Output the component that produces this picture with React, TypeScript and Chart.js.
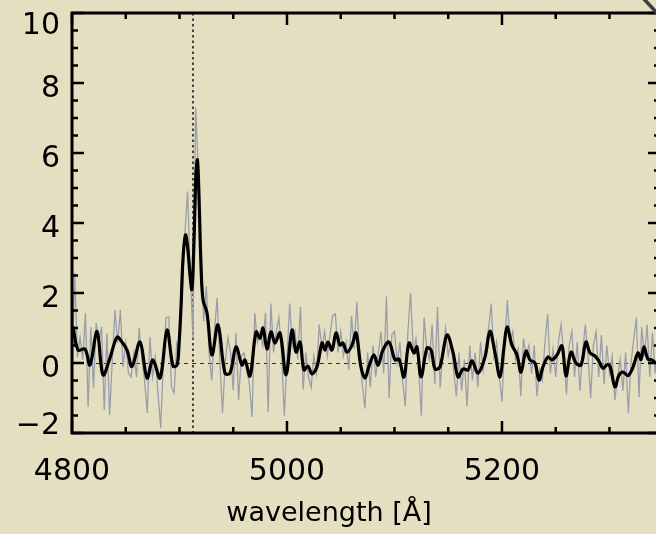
import React, { useEffect, useRef } from "react";
import { Chart, registerables } from "chart.js";

Chart.register(...registerables);

// ---- data ----
const X_MIN = 4800;
const X_MAX = 5347;
const Y_MIN = -2;
const Y_MAX = 10;
const xTickValues = [4800, 5000, 5200];
const yTickValues = [-2, 0, 2, 4, 6, 8, 10];
const markerWave = 4913; // dotted vertical line
const xTitle = "wavelength [Å]";

// raw (noisy) spectrum: sampled every 2.5 Å starting at 4800 Å
const rawStart = 4800;
const rawStep = 2.5;
const rawFlux = [
  -0.3, 2.57, 0.17, 0.74, 0.09, 1.43, -1.26, 1.03, -0.71, 1.14,
  0.57, 1.03, -1.34, 0.86, -1.49, 0.09, 1.51, 0.57, 1.51, -0.11,
  0.57, -0.29, -0.4, 0.29, -0.4, 1.0, 0.09, -0.49, -1.43, 0.74,
  -0.4, 0.17, -0.86, -1.86, 0.0, 1.29, 1.31, -0.69, -0.86, 0.57,
  0.4, 2.0, 3.7, 4.9, 2.6, 0.7, 7.3, 5.5, 3.0, 1.2,
  2.2, 0.3, -0.5, 0.9, 1.86, 0.1, -1.43, 0.0, 0.74, 0.3,
  -0.77, 0.86, -1.06, 0.2, 0.29, -0.2, -0.6, -1.54, 1.43, 0.6,
  0.86, 0.5, 1.43, -1.4, 1.7, 0.3, 0.9, 1.3, 0.2, -1.5,
  0.1, 1.7, 0.5, 0.9, 0.1, 1.6, -0.76, 0.3, -0.4, -0.7,
  0.2, -0.3, 1.1, 0.4, 0.9, 0.2, 0.8, 1.35, 1.4, 0.3,
  0.9, 0.2, 0.6, -0.2, 1.35, 0.4, 1.75, 0.2, -0.6, -1.3,
  0.3, -0.7, 0.5, -0.4, 0.3, 0.9, -0.3, 1.9, -1.0, 0.8,
  0.9, 0.0, 0.6, -0.5, -1.24, 0.9, 2.0, 0.3, 0.7, -0.2,
  -1.5, 1.3, 0.4, 0.1, 1.1, -0.6, 1.6, -0.7, 0.3, 1.0,
  0.2, 0.6, -0.2, -0.95, 0.3, -0.8, 0.1, -1.24, 0.5, -0.5,
  0.3, -0.7, 0.6, -0.2, 0.5, 1.0, 1.7, 0.2, 0.6, -0.4,
  -1.1, 0.6, 1.8, 0.6, 0.9, 0.1, 0.4, -0.95, 0.7, 0.2,
  0.5, -0.3, 0.5, -0.95, -0.2, -0.5, 0.6, 1.4, -0.3, 0.4,
  -0.4, 0.6, 1.1, 0.2, -0.9, 0.5, 0.9, -0.4, 0.6, -0.8,
  0.3, 1.1, 0.2, -1.0, 0.5, 0.9, -0.4, 0.8, -0.6, 0.5,
  -0.3, 0.2, -1.06, -0.4, 0.1, -0.8, 0.3, -1.43, 0.0, 0.66,
  1.3, -0.97, 1.03, 0.2, 1.1, -0.4, 0.86, -0.3, 0.4, 0.0,
];

// smoothed spectrum
const smoothWave = [
  4800.9, 4805.6, 4812.1, 4816.7, 4823.3, 4828.8, 4835.3, 4841.9, 4846.5, 4851.2,
  4855.8, 4863.3, 4869.8, 4875.3, 4881.9, 4888.4, 4894.0, 4897.7, 4899.5, 4901.4,
  4903.3, 4905.6, 4907.9, 4909.8, 4911.6, 4913.5, 4915.3, 4916.7, 4918.1, 4920.0,
  4921.9, 4925.6, 4930.2, 4935.8, 4942.3, 4947.0, 4952.6, 4958.1, 4960.9, 4965.6,
  4971.2, 4974.9, 4977.7, 4981.4, 4985.1, 4988.8, 4993.5, 4999.1, 5004.7, 5008.4,
  5012.1, 5015.8, 5019.5, 5023.3, 5027.9, 5032.6, 5035.3, 5038.1, 5041.9, 5045.6,
  5049.3, 5052.1, 5055.8, 5060.5, 5064.2, 5068.8, 5072.6, 5076.3, 5080.9, 5084.7,
  5089.3, 5094.9, 5100.5, 5104.2, 5108.8, 5113.5, 5118.1, 5120.9, 5124.7, 5130.2,
  5134.0, 5137.7, 5142.3, 5148.8, 5154.4, 5159.1, 5163.7, 5168.4, 5172.1, 5177.7,
  5184.2, 5188.8, 5193.5, 5198.1, 5201.9, 5204.7, 5209.3, 5214.0, 5217.7, 5222.3,
  5226.0, 5230.7, 5234.4, 5238.1, 5242.8, 5246.5, 5251.2, 5255.8, 5259.5, 5264.2,
  5268.8, 5273.5, 5278.1, 5281.9, 5286.5, 5290.2, 5293.9, 5297.7, 5300.5, 5305.1,
  5308.8, 5312.6, 5317.2, 5321.9, 5326.5, 5329.3, 5332.1, 5335.8, 5339.5, 5343.3,
  5347.0,
];
const smoothFlux = [
  1.05, 0.37, 0.4, -0.06, 0.9, -0.34, 0.14, 0.74, 0.6, 0.37,
  -0.1, 0.6, -0.43, 0.09, -0.43, 0.94, -0.09, -0.06, 0.5, 1.6,
  3.0, 3.66, 3.2, 2.5, 2.1, 3.5, 5.4, 5.8, 4.8, 2.8,
  1.8, 1.43, 0.23, 1.09, -0.29, -0.29, 0.46, -0.06, 0.09, -0.37,
  0.89, 0.71, 1.0, 0.4, 0.89, 0.57, 0.86, -0.34, 0.94, 0.31,
  0.6, -0.2, -0.09, -0.31, -0.11, 0.57, 0.37, 0.6, 0.37, 0.86,
  0.51, 0.57, 0.31, 0.51, 0.86, -0.11, -0.43, -0.09, 0.23, -0.06,
  0.37, 0.6, 0.09, 0.11, -0.4, 0.57, 0.29, 0.46, -0.4, 0.43,
  0.37, -0.17, -0.11, 0.8, 0.31, -0.4, -0.17, -0.2, 0.06, -0.29,
  0.17, 0.91, 0.29, -0.4, 0.46, 1.03, 0.51, 0.23, -0.26, 0.34,
  0.09, 0.0, -0.49, -0.11, 0.17, 0.09, 0.23, 0.49, -0.37, 0.31,
  0.0, -0.06, 0.6, 0.29, 0.2, 0.05, -0.15, -0.05, -0.09, -0.68,
  -0.35, -0.26, -0.36, -0.12, 0.29, 0.1, 0.46, 0.11, 0.09, 0.0,
  0.05,
];

// ---- styles ----
const BG = "#E5DFC1";
const FONT = "'DejaVu Sans', sans-serif";
const TICK_FONT_SIZE = 30;

const yLabelText = (v: number) => (v < 0 ? "\u2212" + Math.abs(v) : String(v));

const framePlugin = {
  id: "frame",
  beforeDatasetsDraw(chart: any) {
    const { ctx, chartArea } = chart;
    const { left, right, top, bottom } = chartArea;
    const x = chart.scales.x;
    const y = chart.scales.y;
    ctx.save();
    // zero line
    ctx.strokeStyle = "#2a2a2a";
    ctx.lineWidth = 1;
    ctx.setLineDash([4, 4]);
    const y0 = Math.round(y.getPixelForValue(0)) + 0.5;
    ctx.beginPath();
    ctx.moveTo(left, y0);
    ctx.lineTo(right, y0);
    ctx.stroke();
    // dotted marker
    ctx.strokeStyle = "#444";
    ctx.lineWidth = 2;
    ctx.setLineDash([2.5, 3]);
    const xm = Math.round(x.getPixelForValue(markerWave));
    ctx.beginPath();
    ctx.moveTo(xm, top);
    ctx.lineTo(xm, bottom);
    ctx.stroke();
    ctx.restore();
  },
  afterDraw(chart: any) {
    const { ctx, chartArea } = chart;
    const { left, right, top, bottom } = chartArea;
    const x = chart.scales.x;
    const y = chart.scales.y;
    ctx.save();
    ctx.strokeStyle = "#000";
    ctx.lineWidth = 3;
    ctx.setLineDash([]);
    ctx.beginPath();
    ctx.rect(left, top, right - left, bottom - top);
    ctx.stroke();
    // x ticks (bottom & top), inward
    ctx.lineWidth = 2.5;
    for (let v = X_MIN; v <= X_MAX; v += 50) {
      const px = x.getPixelForValue(v);
      const len = v % 200 === 0 ? 12 : 6;
      ctx.beginPath();
      ctx.moveTo(px, bottom);
      ctx.lineTo(px, bottom - len);
      ctx.moveTo(px, top);
      ctx.lineTo(px, top + len);
      ctx.stroke();
    }
    for (let v = Y_MIN; v <= Y_MAX; v += 0.5) {
      const py = y.getPixelForValue(v);
      const len = Math.abs(v % 2) < 1e-6 ? 12 : 6;
      ctx.beginPath();
      ctx.moveTo(left, py);
      ctx.lineTo(left + len, py);
      ctx.moveTo(right, py);
      ctx.lineTo(right - len, py);
      ctx.stroke();
    }
    // y tick labels (kept inside the axis range, as in the original)
    ctx.fillStyle = "#000";
    ctx.font = `${TICK_FONT_SIZE}px ${FONT}`;
    ctx.textAlign = "right";
    ctx.textBaseline = "alphabetic";
    const capHalf = TICK_FONT_SIZE * 0.729 * 0.5;
    yTickValues.forEach((v, i) => {
      let cy = y.getPixelForValue(v) + 3;
      if (i === 0) cy = y.getPixelForValue(v) - 10;
      if (i === yTickValues.length - 1) cy = y.getPixelForValue(v) + 10;
      ctx.fillText(yLabelText(v), left - 12, cy + capHalf);
    });
    // x title
    ctx.font = `27px ${FONT}`;
    ctx.textAlign = "center";
    ctx.textBaseline = "middle";
    ctx.fillText(xTitle, 329, 514);
    // decorative diagonal stroke at top-right
    ctx.strokeStyle = "#3c3c3c";
    ctx.lineWidth = 3.5;
    ctx.beginPath();
    ctx.moveTo(643, -2);
    ctx.lineTo(657, 13);
    ctx.stroke();
    ctx.restore();
  },
};

export default function App() {
  const ref = useRef<HTMLCanvasElement>(null);
  useEffect(() => {
    if (!ref.current) return;
    const rawData = rawFlux.map((v, i) => ({ x: rawStart + i * rawStep, y: v }));
    const smoothData = smoothWave.map((w, i) => ({ x: w, y: smoothFlux[i] }));
    const chart = new Chart(ref.current, {
      type: "line",
      data: {
        datasets: [
          {
            data: smoothData,
            borderColor: "#000",
            borderWidth: 3.2,
            pointRadius: 0,
            tension: 0.35,
            fill: false,
          },
          {
            data: rawData,
            borderColor: "#9a9eab",
            borderWidth: 1.3,
            pointRadius: 0,
            tension: 0,
            fill: false,
          },
        ],
      },
      options: {
        responsive: false,
        maintainAspectRatio: false,
        animation: false,
        layout: { padding: { top: 13, right: 2, left: 0, bottom: 0 } },
        plugins: { legend: { display: false }, tooltip: { enabled: false } },
        scales: {
          x: {
            type: "linear",
            min: X_MIN,
            max: X_MAX,
            grid: { display: false, drawTicks: false },
            border: { display: false },
            afterBuildTicks: (s: any) => {
              s.ticks = xTickValues.map((v) => ({ value: v }));
            },
            afterFit: (s: any) => {
              s.height = 101;
              s.paddingLeft = 0;
              s.paddingRight = 0;
            },
            ticks: {
              color: "#000",
              font: { family: FONT, size: TICK_FONT_SIZE },
              padding: 21,
              maxRotation: 0,
              autoSkip: false,
              callback: (v: any) => String(v),
            },
          },
          y: {
            min: Y_MIN,
            max: Y_MAX,
            grid: { display: false, drawTicks: false },
            border: { display: false },
            afterBuildTicks: (s: any) => {
              s.ticks = yTickValues.map((v) => ({ value: v }));
            },
            afterFit: (s: any) => {
              s.width = 72;
              s.paddingTop = 0;
              s.paddingBottom = 0;
            },
            ticks: { display: false },
          },
        },
      },
      plugins: [framePlugin],
    });
    return () => chart.destroy();
  }, []);
  return (
    <div
      style={{
        position: "fixed",
        left: 0,
        top: 0,
        width: 656,
        height: 534,
        overflow: "hidden",
        background: BG,
      }}
    >
      <canvas ref={ref} width={662} height={534} style={{ display: "block" }} />
    </div>
  );
}
